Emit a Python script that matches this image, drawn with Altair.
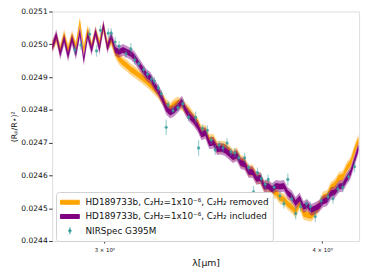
import altair as alt
import pandas as pd

# model wavelength grid (micron)
lam_model = [2.8009, 2.8155, 2.8301, 2.8448, 2.8596, 2.8745, 2.8894, 2.9044, 2.9195, 2.9347,
             2.9499, 2.9652, 2.9806, 2.9961, 3.0117, 3.0273, 3.0431, 3.0589, 3.0748, 3.0908,
             3.1068, 3.1230, 3.1392, 3.1555, 3.1719, 3.1884, 3.2050, 3.2216, 3.2384, 3.2552,
             3.2721, 3.2891, 3.3062, 3.3234, 3.3407, 3.3580, 3.3755, 3.3930, 3.4106, 3.4283,
             3.4461, 3.4641, 3.4821, 3.5001, 3.5183, 3.5366, 3.5550, 3.5734, 3.5920, 3.6107,
             3.6294, 3.6483, 3.6672, 3.6863, 3.7054, 3.7247, 3.7440, 3.7635, 3.7830, 3.8027,
             3.8225, 3.8423, 3.8623, 3.8824, 3.9025, 3.9228, 3.9432, 3.9637, 3.9843, 4.0050,
             4.0258, 4.0467, 4.0677, 4.0889, 4.1101, 4.1315, 4.1529, 4.1745, 4.1962]

# C2H2 removed (orange)
removed = [0.024995, 0.025019, 0.024983, 0.025028, 0.024983, 0.025025, 0.024992, 0.025067, 0.024983, 0.025043,
           0.024992, 0.025037, 0.025001, 0.025052, 0.024998, 0.025013, 0.024977, 0.024956, 0.024944, 0.024935,
           0.024923, 0.024915, 0.024906, 0.024897, 0.024888, 0.024876, 0.024864, 0.024852, 0.024834, 0.024816,
           0.024804, 0.024816, 0.024822, 0.024816, 0.024804, 0.024792, 0.024774, 0.024760, 0.024734, 0.024736,
           0.024708, 0.024709, 0.024686, 0.024688, 0.024686, 0.024676, 0.024662, 0.024667, 0.024644, 0.024640,
           0.024614, 0.024616, 0.024593, 0.024592, 0.024566, 0.024568, 0.024549, 0.024548, 0.024531, 0.024527,
           0.024513, 0.024503, 0.024489, 0.024515, 0.024483, 0.024479, 0.024477, 0.024491, 0.024507, 0.024533,
           0.024537, 0.024563, 0.024572, 0.024592, 0.024596, 0.024622, 0.024638, 0.024676, 0.024708]

# C2H2 included (purple)
included = [0.024992, 0.025028, 0.024971, 0.025016, 0.024965, 0.025016, 0.024971, 0.025037, 0.024953, 0.025028,
            0.024983, 0.025037, 0.024986, 0.025058, 0.024989, 0.025025, 0.024983, 0.024977, 0.024983, 0.024977,
            0.024971, 0.024959, 0.024941, 0.024923, 0.024906, 0.024897, 0.024876, 0.024858, 0.024834, 0.024804,
            0.024792, 0.024798, 0.024810, 0.024825, 0.024798, 0.024780, 0.024768, 0.024751, 0.024725, 0.024730,
            0.024698, 0.024700, 0.024680, 0.024682, 0.024677, 0.024667, 0.024656, 0.024661, 0.024638, 0.024634,
            0.024611, 0.024610, 0.024590, 0.024592, 0.024566, 0.024568, 0.024558, 0.024568, 0.024566, 0.024568,
            0.024546, 0.024536, 0.024516, 0.024530, 0.024504, 0.024509, 0.024495, 0.024500, 0.024507, 0.024521,
            0.024525, 0.024545, 0.024549, 0.024566, 0.024569, 0.024590, 0.024608, 0.024646, 0.024684]

# NIRSpec G395M observations
lam_obs = [2.8856, 2.9081, 2.9422, 2.9690, 2.9845, 3.0156, 3.0273, 3.0431, 3.0589, 3.0868,
           3.1068, 3.1230, 3.1392, 3.1596, 3.1760, 3.1926, 3.2050, 3.2216, 3.2342, 3.2552,
           3.2637, 3.2849, 3.3062, 3.3277, 3.3537, 3.3843, 3.3975, 3.4151, 3.4373, 3.4552,
           3.4731, 3.4912, 3.5093, 3.5276, 3.5459, 3.5643, 3.5829, 3.6107, 3.6294, 3.6532,
           3.6722, 3.6913, 3.7105, 3.7247, 3.7540, 3.7830, 3.8027, 3.8225, 3.8423, 3.8623,
           3.8877, 3.9180, 3.9383, 3.9637, 3.9949, 4.0313, 4.0575, 4.0839, 4.1101, 4.1425,
           4.1745]
depth_obs = [0.024983, 0.024998, 0.025031, 0.024980, 0.025043, 0.025034, 0.025034, 0.025007, 0.024995, 0.024971,
             0.024986, 0.024953, 0.024941, 0.024923, 0.024909, 0.024894, 0.024888, 0.024867, 0.024849, 0.024747,
             0.024816, 0.024798, 0.024807, 0.024819, 0.024777, 0.024777, 0.024684, 0.024744, 0.024738, 0.024708,
             0.024678, 0.024693, 0.024684, 0.024699, 0.024672, 0.024669, 0.024654, 0.024654, 0.024624, 0.024550,
             0.024609, 0.024591, 0.024573, 0.024588, 0.024564, 0.024538, 0.024514, 0.024588, 0.024529, 0.024484,
             0.024505, 0.024514, 0.024505, 0.024475, 0.024523, 0.024535, 0.024529, 0.024559, 0.024564, 0.024597,
             0.024627]
err_obs = [0.000015, 0.000015, 0.000018, 0.000018, 0.000015, 0.000015, 0.000015, 0.000015, 0.000015, 0.000012,
           0.000018, 0.000015, 0.000012, 0.000012, 0.000012, 0.000012, 0.000012, 0.000012, 0.000012, 0.000024,
           0.000012, 0.000012, 0.000012, 0.000015, 0.000012, 0.000018, 0.000024, 0.000012, 0.000015, 0.000012,
           0.000015, 0.000012, 0.000015, 0.000015, 0.000012, 0.000015, 0.000012, 0.000015, 0.000012, 0.000018,
           0.000015, 0.000015, 0.000015, 0.000015, 0.000015, 0.000015, 0.000015, 0.000018, 0.000015, 0.000018,
           0.000015, 0.000015, 0.000015, 0.000018, 0.000015, 0.000015, 0.000015, 0.000015, 0.000015, 0.000015,
           0.000018]

LAB_REM = "HD189733b, C₂H₂=1x10⁻⁶, C₂H₂ removed"
LAB_INC = "HD189733b, C₂H₂=1x10⁻⁶, C₂H₂ included"
LAB_OBS = "NIRSpec G395M"
ORANGE = "#FFA500"
PURPLE = "#800080"
TEAL = "#3a9d9d"

df_rem = pd.DataFrame({"lam": lam_model, "v": removed, "series": LAB_REM})
df_inc = pd.DataFrame({"lam": lam_model, "v": included, "series": LAB_INC})
df_obs = pd.DataFrame({"lam": lam_obs, "v": depth_obs, "e": err_obs, "series": LAB_OBS})

FONT = "DejaVu Sans"
xscale = alt.Scale(type="log", domain=[2.8, 4.2], nice=False)
yscale = alt.Scale(domain=[0.0244, 0.0251], nice=False, zero=False)

is_obs = "datum.value == '" + LAB_OBS + "'"
sym_shape = (is_obs + " ? "
             "'M0.6,-0.6V0.6M0.82,0A0.22,0.22 0 1,1 0.38,0A0.22,0.22 0 1,1 0.82,0Z' : "
             "'M-1,-0.34H2.2V0.34H-1Z'")

color = alt.Color(
    "series:N",
    scale=alt.Scale(domain=[LAB_REM, LAB_INC, LAB_OBS], range=[ORANGE, PURPLE, TEAL]),
    legend=alt.Legend(
        title=None, orient="none", legendX=4, legendY=184,
        fillColor="white", strokeColor="#d0d0d0", cornerRadius=3, padding=4,
        labelFont=FONT, labelFontSize=9, labelColor="#111", labelLimit=400,
        symbolSize=144, rowPadding=2.5, labelOffset=13, symbolOpacity=1,
        symbolType=alt.ExprRef(expr=sym_shape),
        symbolStrokeColor=alt.ExprRef(expr=is_obs + " ? '" + TEAL + "' : 'transparent'"),
        symbolStrokeWidth=1,
    ),
)

x_enc = alt.X("lam:Q", scale=xscale, title="λ[μm]",
              axis=alt.Axis(values=[3, 4], labelExpr="datum.value == 3 ? '3 × 10⁰' : '4 × 10⁰'",
                            labelFontSize=5.5, labelFont=FONT, tickSize=2, labelPadding=5,
                            titleFont=FONT, titleFontSize=9.5, titleFontWeight="normal",
                            titlePadding=4, domain=False, grid=False, tickColor="#333",
                            labelColor="#111", titleColor="#111"))
y_axis = alt.Axis(values=[0.0244, 0.0245, 0.0246, 0.0247, 0.0248, 0.0249, 0.0250, 0.0251],
                  format=".4f", labelFontSize=7.7, labelFont=FONT, tickSize=3.5, labelPadding=1.5,
                  title="(Rₚ/R⋆)²", titleFont=FONT, titleFontSize=8, titleFontWeight="normal",
                  titlePadding=2, domain=False, grid=False, tickColor="#333",
                  labelColor="#111", titleColor="#111")


def band(df, w, op):
    return alt.Chart(df).transform_calculate(
        lo=f"datum.v - {w}", hi=f"datum.v + {w}"
    ).mark_area(opacity=op, interpolate="linear").encode(
        x=x_enc,
        y=alt.Y("lo:Q", scale=yscale, axis=y_axis),
        y2="hi:Q",
        color=color,
    )


bars = alt.Chart(df_obs).transform_calculate(
    lo="datum.v - datum.e", hi="datum.v + datum.e"
).mark_rule(strokeWidth=1.3, opacity=0.45).encode(
    x=x_enc, y=alt.Y("lo:Q", scale=yscale, axis=y_axis), y2="hi:Q", color=color)

dots = alt.Chart(df_obs).mark_circle(size=10, opacity=0.85).encode(
    x=x_enc, y=alt.Y("v:Q", scale=yscale, axis=y_axis), color=color)

chart = alt.layer(
    band(df_rem, 0.000018, 0.45),
    band(df_rem, 0.000009, 1.0),
    band(df_inc, 0.000018, 0.45),
    band(df_inc, 0.000009, 1.0),
    bars,
    dots,
).properties(
    width=313, height=234,
    padding={"left": 45, "top": 1, "right": 6, "bottom": 29},
    autosize=alt.AutoSizeParams(type="none"),
).configure_view(
    stroke="#444", strokeWidth=1.2
).configure(background="white")

chart.save("out.html", embed_options={"renderer": "svg", "actions": False})
